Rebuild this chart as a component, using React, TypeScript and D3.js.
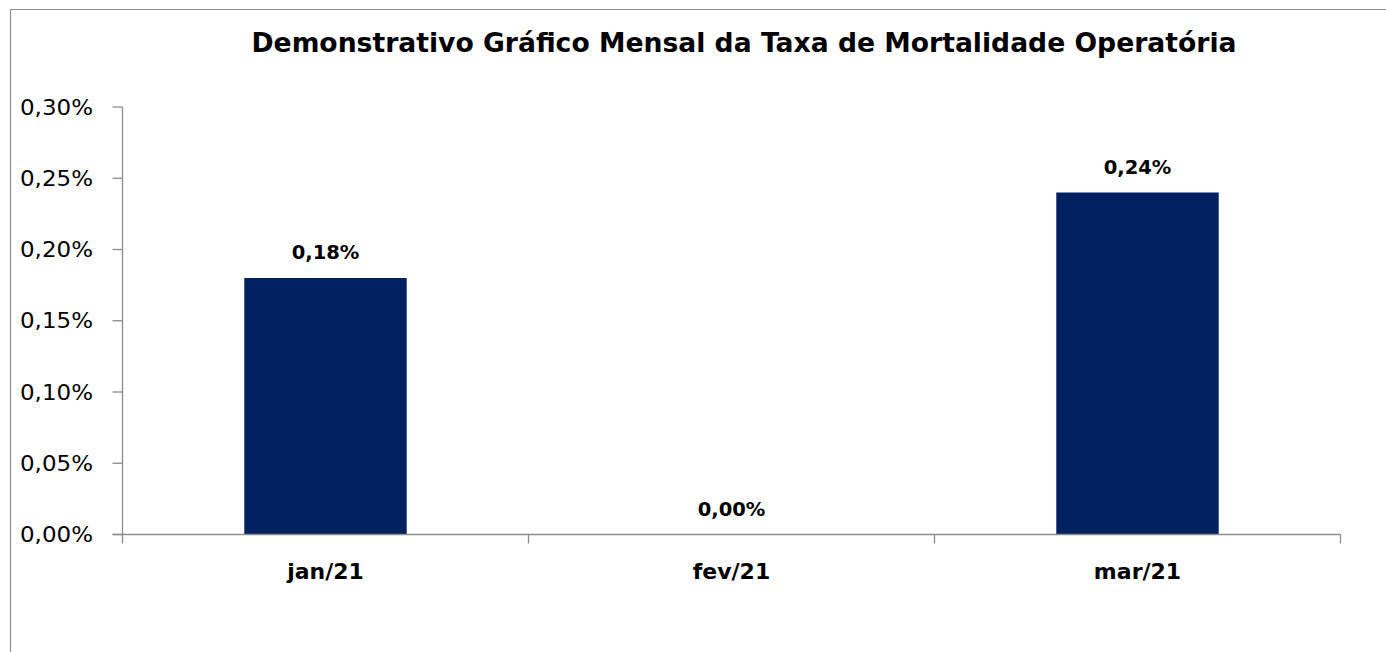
import React, { useEffect, useRef } from "react";
import * as d3 from "d3";

const months = ["jan/21", "fev/21", "mar/21"];
const rates = [0.18, 0.0, 0.24];
const yTicks = [0, 0.05, 0.1, 0.15, 0.2, 0.25, 0.3];
const title = "Demonstrativo Gráfico Mensal da Taxa de Mortalidade Operatória";

const fmt = (v: number) => v.toFixed(2).replace(".", ",") + "%";

const App = () => {
  const svgRef = useRef<SVGSVGElement>(null);

  useEffect(() => {
    const width = 1386;
    const height = 652;
    const left = 122.5;
    const right = 1340.5;
    const top = 107;
    const bottom = 534.5;
    const font = "'DejaVu Sans', Verdana, sans-serif";
    const axisColor = "#8c8c8c";

    const svg = d3.select(svgRef.current).attr("width", width).attr("height", height);
    svg.selectAll("*").remove();

    svg.append("rect").attr("width", width).attr("height", height).attr("fill", "#fff");

    // outer frame (only top and left edges visible)
    svg
      .append("path")
      .attr("d", `M10.5,${height + 2} V9.5 H${width + 2}`)
      .attr("fill", "none")
      .attr("stroke", "#8f8f8f")
      .attr("stroke-width", 1.2);

    svg
      .append("text")
      .attr("x", 744)
      .attr("y", 52)
      .attr("text-anchor", "middle")
      .attr("textLength", 985)
      .attr("lengthAdjust", "spacingAndGlyphs")
      .style("font-family", font)
      .style("font-size", "26px")
      .style("font-weight", "bold")
      .attr("fill", "#000")
      .text(title);

    const x = d3.scaleBand().domain(months).range([left, right]).paddingInner(0).paddingOuter(0);
    const y = d3.scaleLinear().domain([0, 0.3]).range([bottom, top]);
    const barW = x.bandwidth() * 0.4;

    // bars
    svg
      .append("g")
      .selectAll("rect")
      .data(months)
      .join("rect")
      .attr("x", (d) => x(d)! + (x.bandwidth() - barW) / 2)
      .attr("width", barW)
      .attr("y", (d, i) => y(rates[i]))
      .attr("height", (d, i) => y(0) - y(rates[i]))
      .attr("fill", "#00205f");

    // y axis
    const gy = svg.append("g");
    gy.append("line")
      .attr("x1", left).attr("x2", left)
      .attr("y1", top).attr("y2", bottom)
      .attr("stroke", axisColor).attr("stroke-width", 1.3);
    gy.selectAll("line.tick")
      .data(yTicks)
      .join("line")
      .attr("class", "tick")
      .attr("x1", left - 10).attr("x2", left)
      .attr("y1", (d) => y(d)).attr("y2", (d) => y(d))
      .attr("stroke", axisColor).attr("stroke-width", 1.3);
    gy.selectAll("text")
      .data(yTicks)
      .join("text")
      .attr("x", 93)
      .attr("y", (d) => y(d))
      .attr("dy", "0.36em")
      .attr("text-anchor", "end")
      .attr("textLength", 73)
      .attr("lengthAdjust", "spacingAndGlyphs")
      .style("font-family", font)
      .style("font-size", "21px")
      .attr("fill", "#000")
      .text((d) => fmt(d * 1));

    // x axis
    const gx = svg.append("g");
    gx.append("line")
      .attr("x1", left - 10).attr("x2", right)
      .attr("y1", bottom).attr("y2", bottom)
      .attr("stroke", axisColor).attr("stroke-width", 1.3);
    const bounds = months.map((m) => x(m)!).concat([right]);
    gx.selectAll("line.tick")
      .data(bounds)
      .join("line")
      .attr("class", "tick")
      .attr("x1", (d) => d).attr("x2", (d) => d)
      .attr("y1", bottom).attr("y2", bottom + 9)
      .attr("stroke", axisColor).attr("stroke-width", 1.3);
    gx.selectAll("text")
      .data(months)
      .join("text")
      .attr("x", (d) => x(d)! + x.bandwidth() / 2)
      .attr("y", 579)
      .attr("text-anchor", "middle")
      .style("font-family", font)
      .style("font-size", "22px")
      .style("font-weight", "bold")
      .attr("fill", "#000")
      .text((d) => d);

    // value labels
    svg
      .append("g")
      .selectAll("text")
      .data(months)
      .join("text")
      .attr("x", (d) => x(d)! + x.bandwidth() / 2)
      .attr("y", (d, i) => y(rates[i]) - 19)
      .attr("text-anchor", "middle")
      .style("font-family", font)
      .style("font-size", "19.5px")
      .style("font-weight", "bold")
      .attr("fill", "#000")
      .text((d, i) => fmt(rates[i]));
  }, []);

  return (
    <div style={{ position: "absolute", left: 0, top: 0 }}>
      <svg ref={svgRef} style={{ display: "block" }}></svg>
    </div>
  );
};

export default App;
